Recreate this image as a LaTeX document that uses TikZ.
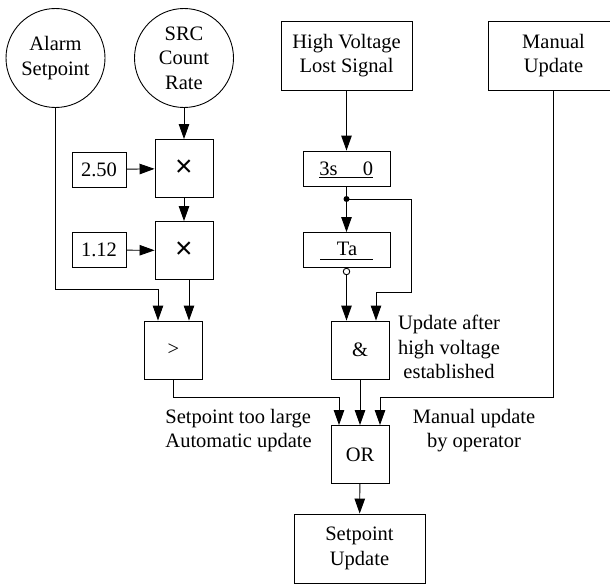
\documentclass[tikz,border=0pt]{standalone}
\usepackage{fontspec}
\setmainfont{Liberation Serif}
\newfontfamily\symfont{Liberation Sans}
\usetikzlibrary{arrows.meta,calc}
\begin{document}
\begin{tikzpicture}[x=1pt,y=-1pt,
  line width=0.9pt,
  every node/.style={font=\fontsize{20.5}{24.5}\selectfont, inner sep=0pt, align=center},
  srcnode/.style={draw, circle, minimum size=99pt},
  blk/.style={draw, minimum width=131pt, minimum height=69pt},
  opbox/.style={draw, minimum width=58pt, minimum height=58pt},
  mulbox/.style={opbox, font=\symfont\fontsize{30}{30}\selectfont},
  constbox/.style={draw, minimum width=54pt, minimum height=35pt},
  timerbox/.style={draw, minimum width=87pt, minimum height=35pt},
  wire/.style={draw, -{Triangle[length=15pt,width=10.5pt]}},
  notdot/.style={draw, circle, fill=white, minimum size=6.5pt},
  lbl/.style={align=center}
]
\useasboundingbox (0,0) rectangle (610,586);
\clip (0,0) rectangle (610,586);

% sources
\node[srcnode] (alarm) at (55.5,58) {Alarm\\Setpoint};
\node[srcnode] (srcr) at (184,58) {SRC\\Count\\Rate};
\node[blk] (hv) at (346.5,55.5) {High Voltage\\Lost Signal};
\node[blk] (man) at (553.5,55.5) {Manual\\Update};

% multiplier chain
\node[mulbox] (mul1) at (184,168.5) {×};
\node[constbox] (c250) at (99,169.5) {2.50};
\node[mulbox] (mul2) at (184,250.5) {×};
\node[constbox] (c112) at (99,250) {1.12};

% logic
\node[opbox] (cmp) at (173.5,350) {>};
\node[opbox] (and) at (360,350) {\&};
\node[opbox] (or) at (360,454.5) {OR};
\node[blk] (out) at (359.5,548.5) {Setpoint\\Update};

% timers
\node[timerbox] (dly) at (346.5,168.5) {};
\node[anchor=base] (dlyon) at (328.5,175) {3s};
\node[anchor=base] (dlyoff) at (368,175) {0};
\draw[line width=0.8pt] (319,177.5) -- (373,177.5);
\node[timerbox] (ta) at (346.5,250) {};
\node[anchor=base] (talbl) at (347,255.5) {Ta};
\draw[line width=0.8pt] (320,259.5) -- (373,259.5);
\node[notdot] (neg) at (346.5,271.5) {};

% labels
\node[lbl] (lblAnd) at (449,347) {Update after\\high voltage\\established};
\node[align=left, anchor=west] (lblAuto) at (165,430.5) {Setpoint too large\\Automatic update};
\node[lbl] (lblMan) at (474,430.5) {Manual update\\by operator};

% bend points
\coordinate (aBend) at (55.5,289);
\coordinate (split) at (346.5,199);
\coordinate (fbk) at (411,292);
\coordinate (cBend) at (173.5,397);
\coordinate (mBend) at (553.5,397);

% connectors
\draw[wire] (srcr) -- (mul1);
\draw[wire] (c250) -- (mul1);
\draw[wire] (mul1) -- (mul2);
\draw[wire] (c112) -- (mul2);
\draw[wire] (alarm) -- (aBend) -| ($(cmp.north)+(-15.5,0)$);
\draw[wire] ($(mul2.south)+(5,0)$) -- ($(cmp.north)+(15.5,0)$);

\draw[wire] (hv) -- (dly);
\draw (dly.south) -- (split);
\fill (split) circle (3pt);
\draw[wire] (split) -- (ta.north);
\draw[wire] (split) -| (fbk) -| ($(and.north)+(16,0)$);
\draw[wire] (neg) -- ($(and.north)+(-13.5,0)$);

\draw[wire] (cmp.south) -- (cBend) -| ($(or.north)+(-21,0)$);
\draw[wire] (and) -- (or);
\draw[wire] (man.south) -- (mBend) -| ($(or.north)+(20,0)$);
\draw[wire] (or) -- (out);
\end{tikzpicture}
\end{document}
